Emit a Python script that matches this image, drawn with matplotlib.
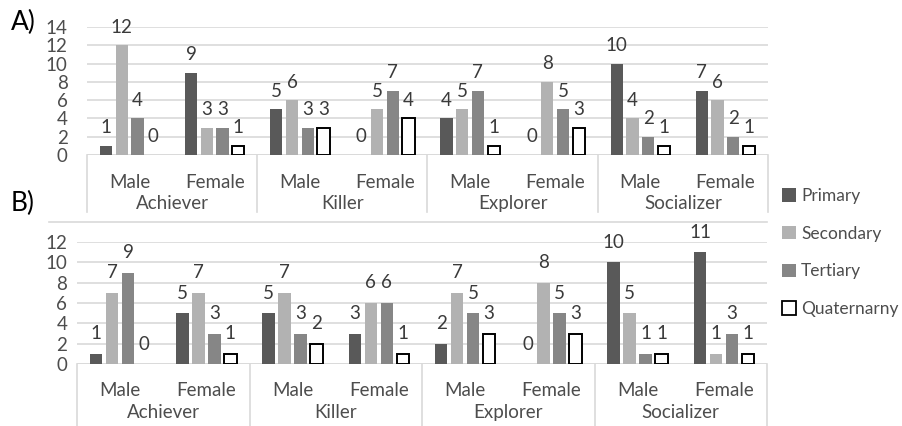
import numpy as np
import matplotlib.pyplot as plt
from matplotlib.lines import Line2D
from matplotlib.patches import Patch
import matplotlib.transforms as mtransforms

plt.rcParams['font.family'] = ['Lato', 'DejaVu Sans']

# Categories
types = ['Achiever', 'Killer', 'Explorer', 'Socializer']
genders = ['Male', 'Female']
series = ['Primary', 'Secondary', 'Tertiary', 'Quaternarny']

# Panel A values, one list per series (Male, Female for each type)
a_primary = [1, 9, 5, 0, 4, 0, 10, 7]
a_secondary = [12, 3, 6, 5, 5, 8, 4, 6]
a_tertiary = [4, 3, 3, 7, 7, 5, 2, 2]
a_quaternary = [0, 1, 3, 4, 1, 3, 1, 1]

# Panel B values
b_primary = [1, 5, 5, 3, 2, 0, 10, 11]
b_secondary = [7, 7, 7, 6, 7, 8, 5, 1]
b_tertiary = [9, 3, 3, 6, 5, 5, 1, 3]
b_quaternary = [0, 1, 2, 1, 3, 3, 1, 1]

a_ticks = [0, 2, 4, 6, 8, 10, 12, 14]
b_ticks = [0, 2, 4, 6, 8, 10, 12]

colors = ['#595959', '#b2b2b2', '#868686', 'white']
grid_c = '#d9d9d9'
text_c = '#4d4d4d'
label_c = '#3a3a3a'
fs = 13.5

fig = plt.figure(figsize=(9.03, 4.26), dpi=100)


def draw_panel(rect, data, ticks, ymax, label_off, row1, row2, bottom, tickpad):
    ax = fig.add_axes(rect)
    x = np.arange(len(types) * len(genders))
    width = 0.145
    step = 0.185
    for i, vals in enumerate(data):
        pos = x + (i - 1.5) * step
        if i == 3:
            # outlined bars, no outline when the value is zero
            ec = ['black' if v > 0 else 'none' for v in vals]
            ax.bar(pos, vals, width, color=colors[i], edgecolor=ec, linewidth=1.4, zorder=3)
        else:
            ax.bar(pos, vals, width, color=colors[i], linewidth=0, zorder=3)
        for p, v in zip(pos, vals):
            ax.annotate(str(v), (p, v), xytext=(0, label_off), textcoords='offset pixels',
                        ha='center', va='center', fontsize=fs, color=label_c)
    ax.set_xlim(-0.5, 7.5)
    ax.set_ylim(0, ymax)
    ax.set_yticks(ticks)
    ax.tick_params(axis='y', length=0, pad=tickpad, labelsize=fs, labelcolor=text_c)
    ax.set_xticks([])
    for s in ax.spines.values():
        s.set_visible(False)
    ax.yaxis.grid(True, color=grid_c, linewidth=1.2, zorder=0)
    ax.set_axisbelow(True)
    ax.axhline(0, color=grid_c, linewidth=1.2, zorder=1)

    # multi-level category axis
    trans = mtransforms.blended_transform_factory(ax.transData, ax.transAxes)
    for k in range(len(types) + 1):
        xb = -0.5 + 2 * k
        ax.add_line(Line2D([xb, xb], [0, bottom], transform=trans, color=grid_c,
                           linewidth=1.2, clip_on=False))
    for j in x:
        ax.text(j, row1, genders[j % 2], transform=trans, ha='center', va='center',
                fontsize=fs, color=text_c)
    for k, t in enumerate(types):
        ax.text(0.5 + 2 * k, row2, t, transform=trans, ha='center', va='center',
                fontsize=fs, color=text_c)
    return ax


H, W = 426, 903
axA = draw_panel([87 / W, 1 - 155 / H, 681 / W, 128 / H],
                 [a_primary, a_secondary, a_tertiary, a_quaternary],
                 a_ticks, 14, 18, -0.215, -0.38, -0.445, 14)
axB = draw_panel([77 / W, 1 - 364 / H, 690 / W, 122 / H],
                 [b_primary, b_secondary, b_tertiary, b_quaternary],
                 b_ticks, 12, 20, -0.215, -0.40, -0.6, 7)

# top border line of panel B
fig.add_artist(Line2D([49 / W, 767 / W], [1 - 222 / H, 1 - 222 / H], color=grid_c,
                      linewidth=1.2))

fig.text(11 / W, 1 - 22 / H, 'A)', fontsize=19, color='black', va='center')
fig.text(11 / W, 1 - 203 / H, 'B)', fontsize=19, color='black', va='center')

handles = [Patch(facecolor=colors[i], edgecolor='black' if i == 3 else colors[i],
                 linewidth=1.3 if i == 3 else 0) for i in range(4)]
fig.legend(handles, series, loc='upper left', bbox_to_anchor=(775 / W, 1 - 181 / H),
           frameon=False, fontsize=12.5, labelcolor=text_c, handlelength=0.8,
           handleheight=0.8, handletextpad=0.3, labelspacing=1.25, borderaxespad=0)

fig.savefig('out.png', dpi=100)
